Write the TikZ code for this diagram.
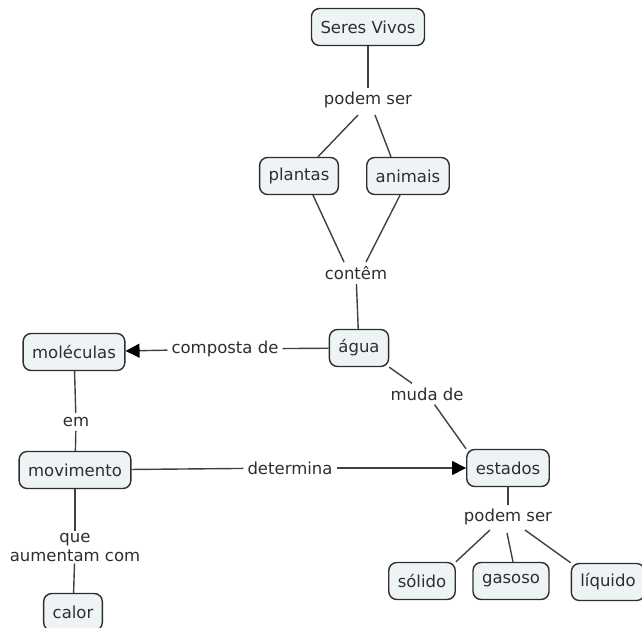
\documentclass[tikz,border=0pt]{standalone}
\usepackage{fontspec}
\setmainfont{DejaVu Sans}
\usetikzlibrary{arrows.meta}
\definecolor{conceptfill}{HTML}{EEF3F6}
\definecolor{ink}{HTML}{2E2E2E}
\definecolor{wire}{HTML}{404040}
\begin{document}
\begin{tikzpicture}[x=1pt,y=-1pt,
  every node/.style={font=\fontsize{16.5}{19}\selectfont, text=ink},
  concept/.style={draw=ink, fill=conceptfill, line width=1.4pt, rounded corners=8pt,
    minimum height=37pt, inner xsep=9pt, inner ysep=4pt},
  linkword/.style={inner sep=4pt, align=center},
  wireline/.style={draw=wire, line width=1.4pt},
  arrowline/.style={wireline, -{Triangle[length=14pt,width=14pt,color=black]}}
]
\useasboundingbox (0,0) rectangle (642,628);

% concepts
\node[concept] (seres)   at (368,27)  {Seres Vivos};
\node[concept] (plantas) at (299,176) {plantas};
\node[concept] (animais) at (408,176) {animais};
\node[concept] (agua)    at (359,348) {água};
\node[concept] (molec)   at (74,352)  {moléculas};
\node[concept] (movim)   at (75,470)  {movimento};
\node[concept] (estados) at (508,468) {estados};
\node[concept] (solido)  at (422,581) {sólido};
\node[concept] (gasoso)  at (511,581) {gasoso};
\node[concept] (liquido) at (608,582) {líquido};
\node[concept] (calor)   at (73,612)  {calor};

% linking phrases
\node[linkword] (podem1)  at (368,100) {podem ser};
\node[linkword] (contem)  at (356,273) {contêm};
\node[linkword] (composta) at (225,349) {composta de};
\node[linkword] (muda)    at (427,394) {muda de};
\node[linkword] (em)      at (76,422)  {em};
\node[linkword] (determina) at (290,468) {determina};
\node[linkword] (podem2)  at (508,517) {podem ser};
\node[linkword, inner sep=2pt] (aument) at (75,547) {que\\aumentam com};

% free ends of the slanted connectors
\coordinate (p1a) at (358,115);
\coordinate (p1b) at (375,115);
\coordinate (c1)  at (344,262);
\coordinate (c2)  at (366,262);
\coordinate (p2a) at (490,530);
\coordinate (p2b) at (507,533);
\coordinate (p2c) at (525,530);

% connectors
\draw[wireline] (seres) -- (podem1);
\draw[wireline] (p1a) -- (plantas.north -| 318,0);
\draw[wireline] (p1b) -- (animais.north -| 391,0);
\draw[wireline] (plantas.south -| 313,0) -- (c1);
\draw[wireline] (animais.south -| 400,0) -- (c2);
\draw[wireline] (contem) -- (agua);
\draw[wireline] (agua) -- (composta);
\draw[arrowline] (composta) -- (molec);
\draw[wireline] (agua.south east) -- (muda);
\draw[wireline] (muda) -- (estados.north west);
\draw[wireline] (molec) -- (em);
\draw[wireline] (em) -- (movim);
\draw[wireline] (movim) -- (determina);
\draw[arrowline] (determina) -- (estados);
\draw[wireline] (movim) -- (aument);
\draw[wireline] (aument) -- (calor);
\draw[wireline] (estados) -- (podem2);
\draw[wireline] (p2a) -- (solido.north east);
\draw[wireline] (p2b) -- (gasoso.north -| 513,0);
\draw[wireline] (p2c) -- (liquido.north west);
\end{tikzpicture}
\end{document}
